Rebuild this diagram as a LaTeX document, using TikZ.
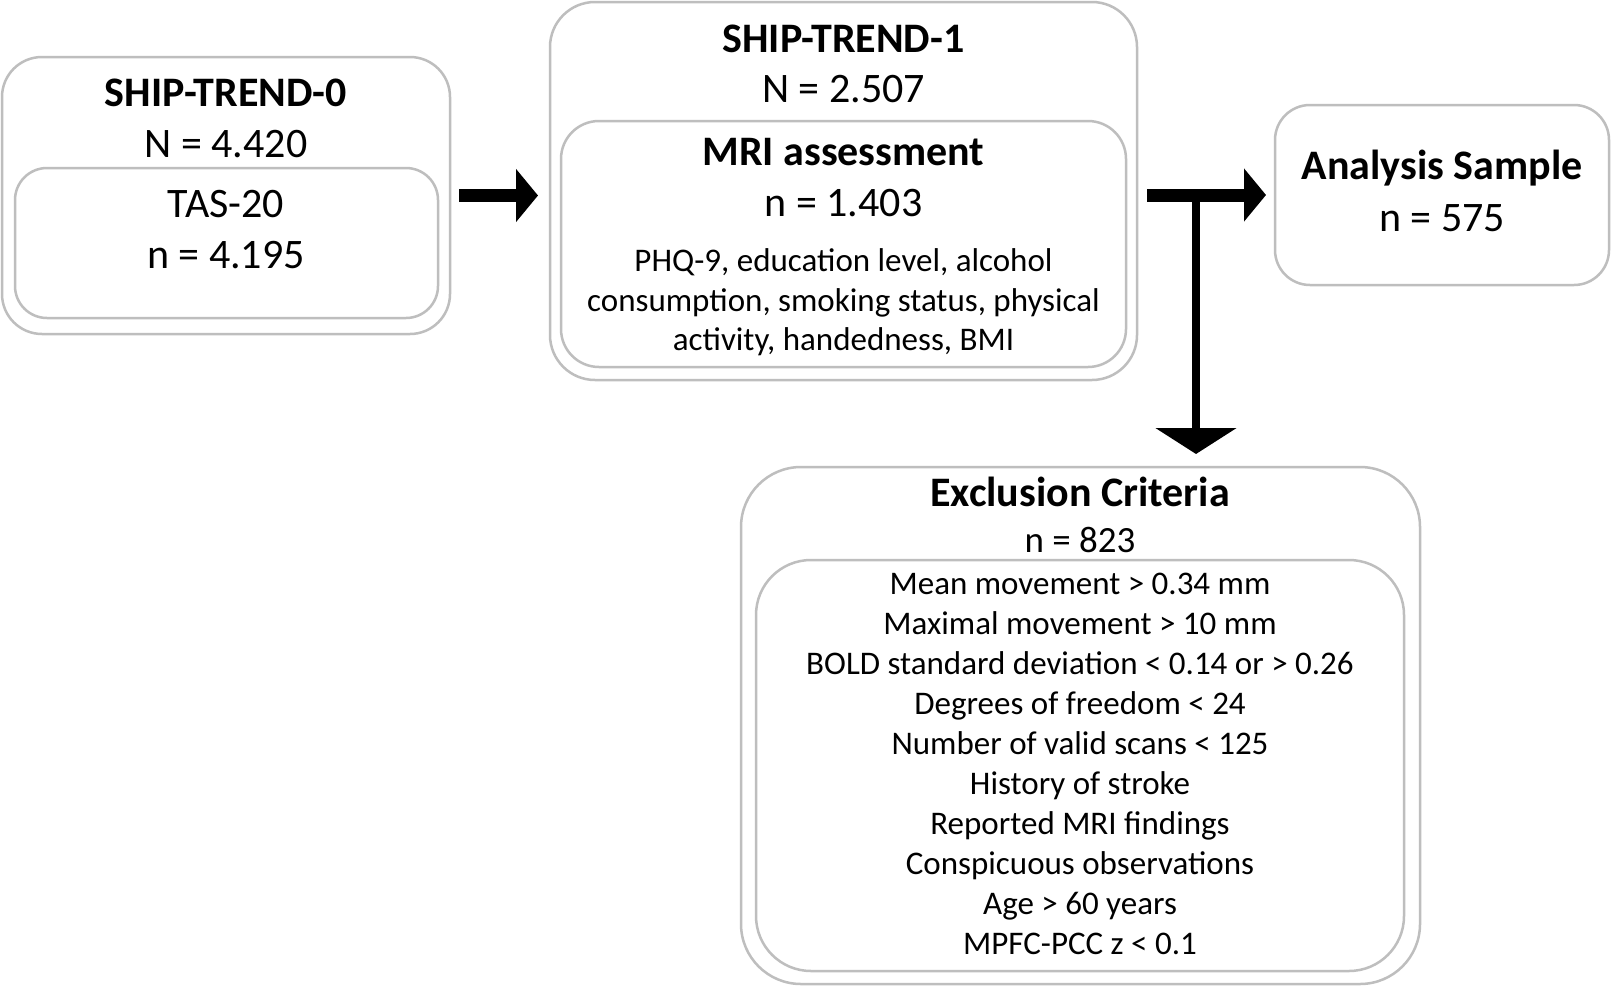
\documentclass[tikz,border=0pt]{standalone}
\usepackage{fontspec}
\setmainfont{Carlito}
\usetikzlibrary{arrows.meta,calc}
\newcommand\FBig{\fontsize{42}{51}\selectfont}
\newcommand\FMid{\fontsize{37}{44}\selectfont}
\newcommand\FSmall{\fontsize{33}{40}\selectfont}
\definecolor{boxgray}{RGB}{190,190,190}
\tikzset{
  box/.style={draw=boxgray, line width=2.5pt, fill=none, inner sep=0pt, outer sep=0pt},
  big/.style={anchor=base, inner sep=0pt, font=\FBig},
  bigb/.style={anchor=base, inner sep=0pt, font=\FBig\bfseries},
  mid/.style={anchor=base, inner sep=0pt, font=\FMid},
  small/.style={anchor=base, inner sep=0pt, font=\FSmall},
  harrow/.style={line width=13pt, -{Triangle[length=22pt,width=52pt]}},
  varrow/.style={line width=8pt, -{Triangle[length=26pt,width=80pt]}}
}
\begin{document}
\begin{tikzpicture}[x=1pt,y=-1pt]
\useasboundingbox[fill=white] (0,0) rectangle (1611,985);
% boxes
\node[box, rounded corners=40pt, minimum width=448pt, minimum height=277pt] (A) at (226,195.5) {};
\node[box, rounded corners=32pt, minimum width=423pt, minimum height=150pt] (Ai) at (226.5,243) {};
\node[box, rounded corners=45pt, minimum width=587pt, minimum height=378pt] (B) at (843.5,191) {};
\node[box, rounded corners=38pt, minimum width=565pt, minimum height=246pt] (Bi) at (843.5,244) {};
\node[box, rounded corners=35pt, minimum width=334pt, minimum height=180pt] (C) at (1442,195) {};
\node[box, rounded corners=60pt, minimum width=679pt, minimum height=517pt] (D) at (1080.5,725.5) {};
\node[box, rounded corners=55pt, minimum width=648pt, minimum height=411pt] (Di) at (1080,765.5) {};
% texts A
\node[bigb] (a1) at (226,106) {SHIP-TREND-0};
\node[big] (a2) at (226,157) {N = 4.420};
\node[big] (a3) at (226,217) {TAS-20};
\node[big] (a4) at (226,268) {n = 4.195};
% texts B
\node[bigb] (b1) at (843.5,52) {SHIP-TREND-1};
\node[big] (b2) at (843.5,102) {N = 2.507};
\node[bigb] (b3) at (843.5,165) {MRI assessment};
\node[big] (b4) at (843.5,216) {n = 1.403};
\node[small] (b5) at (843.5,271) {PHQ-9, education level, alcohol};
\node[small] (b6) at (843.5,311) {consumption, smoking status, physical};
\node[small] (b7) at (843.5,350) {activity, handedness, BMI};
% texts C
\node[bigb] (c1) at (1442,179) {Analysis Sample};
\node[big] (c2) at (1442,231) {n = 575};
% texts D
\node[bigb] (d1) at (1080,506) {Exclusion Criteria};
\node[mid] (d2) at (1080,552) {n = 823};
\node[small] (d3) at (1080,594) {Mean movement > 0.34 mm};
\node[small] (d4) at (1080,634) {Maximal movement > 10 mm};
\node[small] (d5) at (1080,674) {BOLD standard deviation < 0.14 or > 0.26};
\node[small] (d6) at (1080,714) {Degrees of freedom < 24};
\node[small] (d7) at (1080,754) {Number of valid scans < 125};
\node[small] (d8) at (1080,794) {History of stroke};
\node[small] (d9) at (1080,834) {Reported MRI findings};
\node[small] (d10) at (1080,874) {Conspicuous observations};
\node[small] (d11) at (1080,914) {Age > 60 years};
\node[small] (d12) at (1080,954) {MPFC-PCC z < 0.1};
% arrows
\draw[harrow, shorten <=9pt, shorten >=12pt] (A.east) -- (A.east -| B.west);
\draw[harrow, shorten <=10pt, shorten >=9pt] (C.west -| B.east) -- (C.west);
\coordinate (T) at (1196,195);
\draw[varrow, shorten >=13pt] (T) -- (T |- D.north);
\end{tikzpicture}
\end{document}
